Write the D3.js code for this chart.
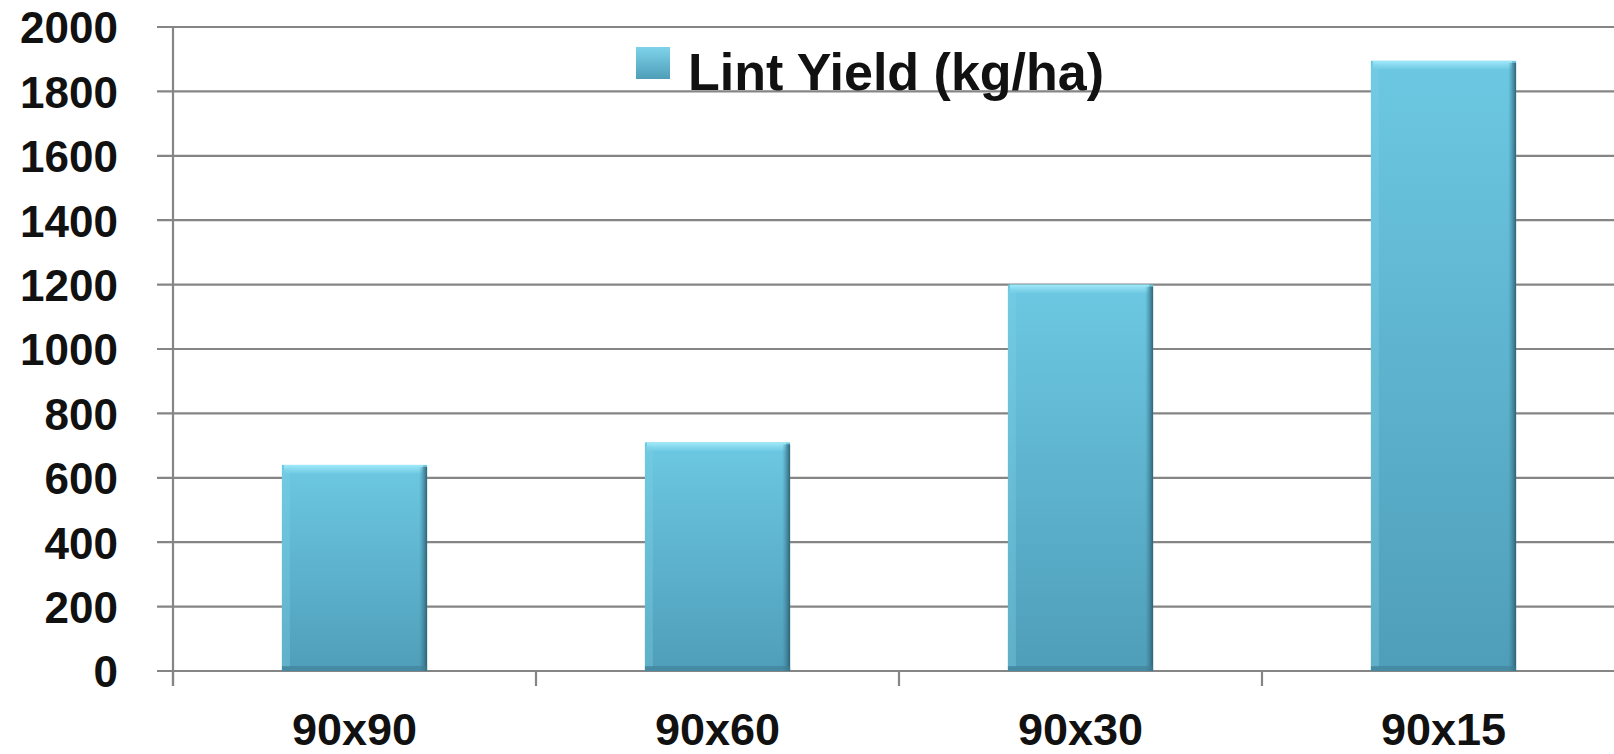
<!DOCTYPE html>
<html>
<head>
<meta charset="utf-8">
<script src="https://cdn.jsdelivr.net/npm/d3@7"></script>
<style>
  html, body { margin: 0; padding: 0; background: #fff; }
  svg { display: block; }
  text { font-family: "Liberation Sans", Arial, sans-serif; font-weight: bold; fill: #111; }
</style>
</head>
<body>
<script>
// chart data
var categories = ['90x90', '90x60', '90x30', '90x15'];
var lintYield = [640, 710, 1200, 1895];
var yTicks = [0, 200, 400, 600, 800, 1000, 1200, 1400, 1600, 1800, 2000];
var seriesName = 'Lint Yield (kg/ha)';

var width = 1614, height = 754;
var plot = { left: 173, right: 1625, top: 27, bottom: 671 };

var svg = d3.select('body').append('svg')
    .attr('width', width)
    .attr('height', height);

var defs = svg.append('defs');

// bar body gradient
var grad = defs.append('linearGradient')
    .attr('id', 'barFill')
    .attr('x1', 0).attr('y1', 0).attr('x2', 0).attr('y2', 1);
grad.append('stop').attr('offset', '0%').attr('stop-color', '#6cc8e2');
grad.append('stop').attr('offset', '100%').attr('stop-color', '#4f9eb9');

var topGrad = defs.append('linearGradient')
    .attr('id', 'barTop')
    .attr('x1', 0).attr('y1', 0).attr('x2', 0).attr('y2', 1);
topGrad.append('stop').attr('offset', '0%').attr('stop-color', '#a0e9f9');
topGrad.append('stop').attr('offset', '100%').attr('stop-color', '#6cc8e2');

var sideGrad = defs.append('linearGradient')
    .attr('id', 'barSide')
    .attr('x1', 0).attr('y1', 0).attr('x2', 1).attr('y2', 0);
sideGrad.append('stop').attr('offset', '0%').attr('stop-color', '#3f8197').attr('stop-opacity', 0);
sideGrad.append('stop').attr('offset', '100%').attr('stop-color', '#2b5e70').attr('stop-opacity', 0.95);

var legGrad = defs.append('linearGradient')
    .attr('id', 'legFill')
    .attr('x1', 0).attr('y1', 0).attr('x2', 0).attr('y2', 1);
legGrad.append('stop').attr('offset', '0%').attr('stop-color', '#7ed3ea');
legGrad.append('stop').attr('offset', '100%').attr('stop-color', '#4f9eb9');

// scales
var x = d3.scaleBand()
    .domain(categories)
    .range([plot.left, plot.right])
    .paddingInner(0.6)
    .paddingOuter(0.3);

var y = d3.scaleLinear()
    .domain([0, 2000])
    .range([plot.bottom, plot.top]);

// gridlines
svg.append('g').selectAll('line')
    .data(yTicks)
    .enter().append('line')
    .attr('x1', plot.left - 16)
    .attr('x2', width)
    .attr('y1', function (d) { return y(d); })
    .attr('y2', function (d) { return y(d); })
    .attr('stroke', '#858585')
    .attr('stroke-width', 2.2);

// y axis line
svg.append('line')
    .attr('x1', plot.left).attr('x2', plot.left)
    .attr('y1', y(2000)).attr('y2', plot.bottom + 15)
    .attr('stroke', '#858585')
    .attr('stroke-width', 2.2);

// x axis ticks at band edges
var step = x.step();
svg.append('g').selectAll('line')
    .data(categories)
    .enter().append('line')
    .attr('x1', function (d, i) { return plot.left + i * step; })
    .attr('x2', function (d, i) { return plot.left + i * step; })
    .attr('y1', plot.bottom)
    .attr('y2', plot.bottom + 15)
    .attr('stroke', '#858585')
    .attr('stroke-width', 2.2);

// y labels
var yAxis = svg.append('g')
    .attr('transform', 'translate(' + plot.left + ',0)')
    .call(d3.axisLeft(y).tickValues(yTicks).tickSize(0).tickPadding(55).tickFormat(d3.format('d')));
yAxis.select('.domain').remove();
yAxis.selectAll('text')
    .style('font-size', '44px')
    .style('font-family', '"Liberation Sans", Arial, sans-serif')
    .style('font-weight', 'bold')
    .attr('fill', '#111')
    .attr('dy', '0.36em');

// x labels
var xAxis = svg.append('g')
    .attr('transform', 'translate(0,' + plot.bottom + ')')
    .call(d3.axisBottom(x).tickSize(0).tickPadding(42));
xAxis.select('.domain').remove();
xAxis.selectAll('text')
    .style('font-size', '45px')
    .style('font-family', '"Liberation Sans", Arial, sans-serif')
    .style('font-weight', 'bold')
    .attr('fill', '#111')
    .attr('dy', '0.72em');

// bars
var bars = svg.append('g').selectAll('g')
    .data(lintYield)
    .enter().append('g');

bars.append('rect')
    .attr('x', function (d, i) { return x(categories[i]); })
    .attr('y', function (d) { return y(d); })
    .attr('width', x.bandwidth())
    .attr('height', function (d) { return y(0) - y(d); })
    .attr('fill', 'url(#barFill)');

// top bevel
bars.append('rect')
    .attr('x', function (d, i) { return x(categories[i]) + 2; })
    .attr('y', function (d) { return y(d); })
    .attr('width', x.bandwidth() - 6)
    .attr('height', 9)
    .attr('fill', 'url(#barTop)');

// left highlight
bars.append('rect')
    .attr('x', function (d, i) { return x(categories[i]); })
    .attr('y', function (d) { return y(d) + 4; })
    .attr('width', 8)
    .attr('height', function (d) { return y(0) - y(d) - 8; })
    .attr('fill', '#7fd0e6')
    .attr('opacity', 0.35);

// right dark edge
bars.append('rect')
    .attr('x', function (d, i) { return x(categories[i]) + x.bandwidth() - 8; })
    .attr('y', function (d) { return y(d) + 2; })
    .attr('width', 8)
    .attr('height', function (d) { return y(0) - y(d) - 2; })
    .attr('fill', 'url(#barSide)');

// bottom dark edge
bars.append('rect')
    .attr('x', function (d, i) { return x(categories[i]); })
    .attr('y', y(0) - 5)
    .attr('width', x.bandwidth())
    .attr('height', 5)
    .attr('fill', '#3f7f95')
    .attr('opacity', 0.6);

// legend
var legend = svg.append('g').attr('transform', 'translate(636,47)');
legend.append('rect')
    .attr('width', 34).attr('height', 32)
    .attr('fill', 'url(#legFill)');
legend.append('text')
    .attr('x', 52)
    .attr('y', 43)
    .style('font-size', '52px')
    .text(seriesName);
</script>
</body>
</html>
